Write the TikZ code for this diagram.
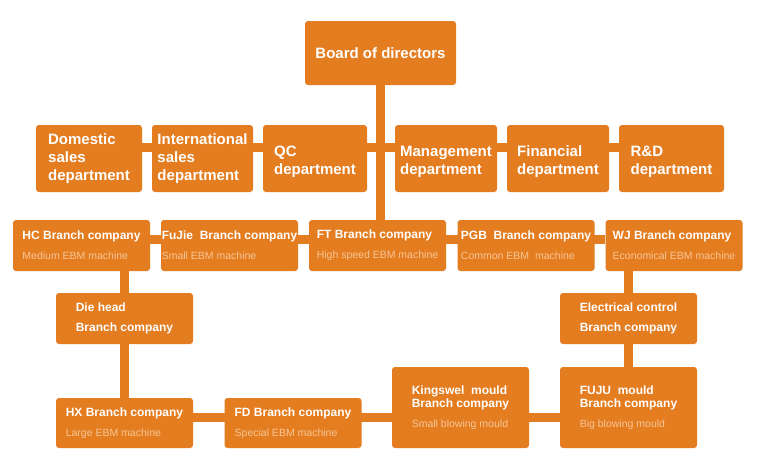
\documentclass[tikz,border=0pt]{standalone}
\usepackage{fontspec}
\setmainfont{Liberation Sans}
\usetikzlibrary{backgrounds}
\definecolor{orgc}{RGB}{228,124,32}
\definecolor{subc}{RGB}{247,198,150}
\newcommand{\machine}[1]{{\color{subc}\fontsize{10.5}{12}\selectfont\mdseries #1}}
\newcommand{\lowstrut}{\rule{0pt}{17pt}}

\begin{document}
\begin{tikzpicture}[
		x=1pt, y=-1pt,
		box/.style={fill=orgc, text=white, rounded corners=3pt, inner sep=0pt, align=left},
		dept/.style={box, minimum height=67pt, font=\fontsize{15}{18}\selectfont\bfseries},
		branch/.style={box, minimum width=137pt, minimum height=51pt, font=\fontsize{12}{20}\selectfont\bfseries},
		twoline/.style={font=\fontsize{12}{19.5}\selectfont\bfseries},
		mould/.style={minimum height=81pt, font=\fontsize{12}{13}\selectfont\bfseries},
		link/.style={draw=orgc, line width=9pt}
		]
		
		\useasboundingbox (0,0) rectangle (760,461);
		
		% --------------------------------------------------
		% Board and departments
		% --------------------------------------------------
		\node[box, minimum width=151pt, minimum height=64pt, font=\fontsize{15}{18}\selectfont\bfseries] (board) at (380.5,53) {Board of directors};
		
		\node[dept, minimum width=106pt] (dom) at (89,158.5) {Domestic\\sales\\department};
		\node[dept, minimum width=101pt] (intl) at (202.5,158.5) {International\\sales\\department};
		\node[dept, minimum width=104pt] (qc) at (315,158.5) {\lowstrut QC\\department};
		\node[dept, minimum width=102pt] (mgmt) at (446,158.5) {\lowstrut Management\\department};
		\node[dept, minimum width=102pt] (fin) at (558,158.5) {\lowstrut Financial\\department};
		\node[dept, minimum width=105pt] (rd) at (671.5,158.5) {\lowstrut R\&D\\department};
		
		% --------------------------------------------------
		% Branch companies
		% --------------------------------------------------
		\node[branch] (hc) at (81.5,245.5) {HC Branch company\\\machine{Medium EBM machine}};
		\node[branch] (fujie) at (229.5,245.5) {FuJie\ \ Branch company\\\machine{Small EBM machine}};
		\node[branch] (ft) at (377.5,245.5) {FT Branch company\\\machine{High speed EBM machine}};
		\node[branch] (pgb) at (526,245.5) {PGB\ \ Branch company\\\machine{Common EBM\ \ machine}};
		\node[branch] (wj) at (674,245.5) {WJ Branch company\\\machine{Economical EBM machine}};
		
		\node[branch, twoline] (die) at (124.5,318.5) {Die head\\Branch company};
		\node[branch, twoline] (elec) at (628.5,318.5) {Electrical control\\Branch company};
		
		\node[branch, minimum height=50pt] (hx) at (124.5,423) {HX Branch company\\\machine{Large EBM machine}};
		\node[branch, minimum height=50pt] (fd) at (293,423) {FD Branch company\\\machine{Special EBM machine}};
		\node[branch, mould] (king) at (460.5,407.5) {Kingswel\ \ mould\\Branch company\\[7pt]\machine{Small blowing mould}};
		\node[branch, mould] (fuju) at (628.5,407.5) {FUJU\ \ mould\\Branch company\\[7pt]\machine{Big blowing mould}};
		
		% --------------------------------------------------
		% Links
		% --------------------------------------------------
		\begin{scope}[on background layer]
			\fill[white] (0,0) rectangle (760,461);
			\draw[link] (board.south) -- (board.south |- ft.north);
			\draw[link] ([yshift=11.5pt]dom.east) -- ([yshift=11.5pt]rd.west);
			\draw[link] ([yshift=6.5pt]hc.east) -- ([yshift=6.5pt]wj.west);
			\draw[link] (die.north) -- (die.north |- hc.south);
			\draw[link] (die) -- (hx);
			\draw[link] (elec.north) -- (elec.north |- wj.south);
			\draw[link] (elec) -- (fuju);
			\draw[link] ([yshift=6pt]hx.east) -- ([yshift=6pt]hx.east -| fuju.west);
		\end{scope}
		
	\end{tikzpicture}
\end{document}
